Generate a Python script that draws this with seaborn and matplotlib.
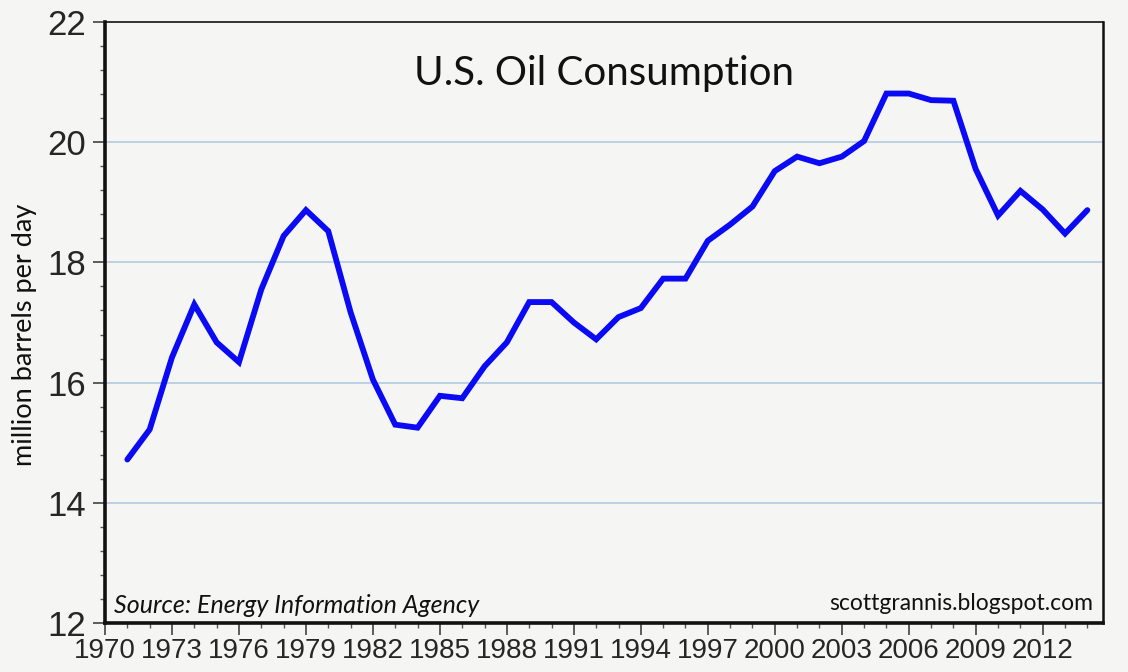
import matplotlib
matplotlib.use("Agg")
import numpy as np
import pandas as pd
import seaborn as sns
import matplotlib.pyplot as plt
from matplotlib.ticker import MultipleLocator

# values (million barrels per day)
years = list(range(1971, 2015))
consumption = [
    14.72, 15.22, 16.42, 17.30, 16.67, 16.34, 17.55, 18.44, 18.87, 18.52,
    17.17, 16.05, 15.30, 15.25, 15.78, 15.74, 16.27, 16.67, 17.34, 17.34,
    17.00, 16.72, 17.09, 17.24, 17.73, 17.73, 18.36, 18.63, 18.93, 19.52,
    19.76, 19.65, 19.76, 20.02, 20.81, 20.81, 20.70, 20.69, 19.55, 18.78,
    19.19, 18.88, 18.48, 18.87,
]
x_ticks = list(range(1970, 2013, 3))
y_ticks = [12, 14, 16, 18, 20, 22]

df = pd.DataFrame({"year": years, "mbd": consumption})

BG = "#f5f5f3"
sns.set_style("ticks")
plt.rcParams["font.family"] = ["Lato", "DejaVu Sans"]

fig = plt.figure(figsize=(11.28, 6.72), dpi=100, facecolor=BG)
ax = fig.add_axes([105 / 1128, 49 / 672, 998 / 1128, 601 / 672])
ax.set_facecolor(BG)

sns.lineplot(data=df, x="year", y="mbd", ax=ax, color="#0a0af5",
             linewidth=4.2, solid_joinstyle="miter", zorder=3)

ax.set_xlim(1970, 2014.7)
ax.set_ylim(12, 22)

ax.set_xticks(x_ticks)
ax.set_xticklabels([str(y) for y in x_ticks])
ax.xaxis.set_minor_locator(MultipleLocator(1))
ax.set_yticks(y_ticks)
ax.yaxis.set_minor_locator(MultipleLocator(0.4))

for v in y_ticks[1:-1]:
    ax.axhline(v, color="#bdd0e2", linewidth=1.4, zorder=1)

ax.tick_params(axis="both", which="major", direction="out", length=8.5,
               width=1.1, color="#333333")
ax.tick_params(axis="both", which="minor", direction="out", length=3.6,
               width=1.0, color="#555555")
ax.tick_params(axis="x", which="major", pad=2)
ax.tick_params(axis="y", which="major", pad=5)

for lab in ax.get_xticklabels():
    lab.set_family(["Liberation Sans Narrow", "Liberation Sans"])
    lab.set_fontsize(20)
for lab in ax.get_yticklabels():
    lab.set_family(["Liberation Sans", "DejaVu Sans"])
    lab.set_fontsize(25)

ax.spines["left"].set_linewidth(2.6)
ax.spines["bottom"].set_linewidth(2.6)
ax.spines["top"].set_linewidth(1.2)
ax.spines["right"].set_linewidth(1.8)
for s in ax.spines.values():
    s.set_color("#111111")

ax.set_xlabel("")
ax.set_ylabel("million barrels per day", fontsize=19.5, color="#111111")
ax.yaxis.set_label_coords(-0.068, 0.48)

ax.text(0.5, 0.915, "U.S. Oil Consumption", transform=ax.transAxes,
        ha="center", va="center", fontsize=29, color="#111111")
ax.text(0.009, 0.016, "Source: Energy Information Agency",
        transform=ax.transAxes, ha="left", va="baseline", fontsize=18,
        style="italic", color="#111111")
ax.text(0.99, 0.021, "scottgrannis.blogspot.com", transform=ax.transAxes,
        ha="right", va="baseline", fontsize=16.5, color="#111111")

fig.savefig("out.png", dpi=100, facecolor=BG)
